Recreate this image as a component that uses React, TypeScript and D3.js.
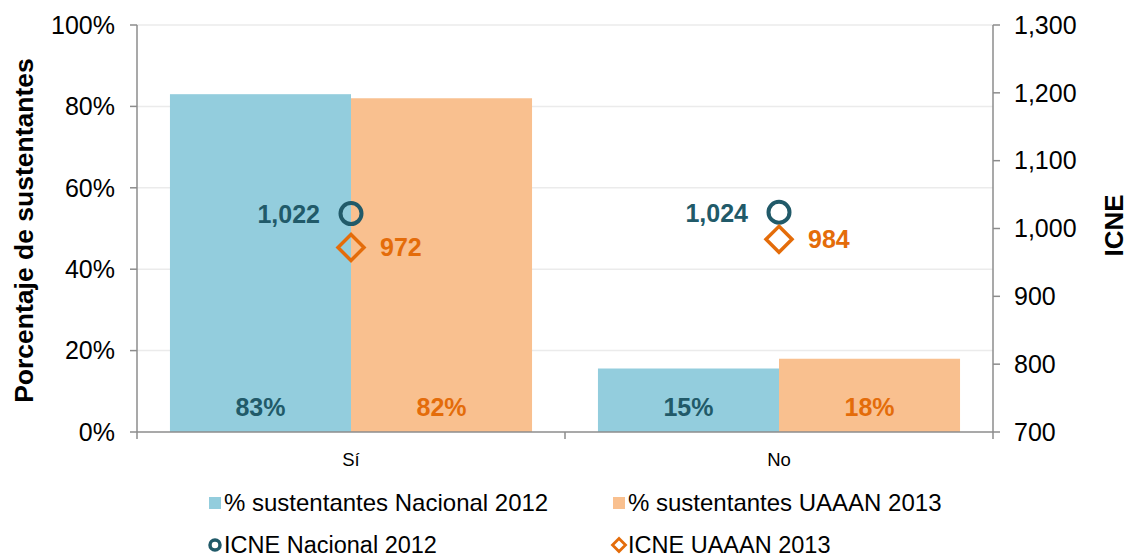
import React from "react";
import * as d3 from "d3";

const categories = ["Sí", "No"];
const pctNacional2012 = [83, 15.6];
const pctUaaan2013 = [82, 18];
const pctNacionalLabels = ["83%", "15%"];
const pctUaaanLabels = ["82%", "18%"];
const icneNacional2012 = [1022, 1024];
const icneUaaan2013 = [972, 984];
const leftTicks = [0, 20, 40, 60, 80, 100];
const rightTicks = [700, 800, 900, 1000, 1100, 1200, 1300];

const W = 1128, H = 557;
const M = { left: 137, right: 993, top: 25, bottom: 432 };
const BLUE = "#93CDDD", PEACH = "#F9C08F", TEAL = "#215A69", ORANGE = "#E46C0A";
const FONT = "Liberation Sans, Arial, sans-serif";

export default function App() {
  const x = d3.scaleBand<string>().domain(categories).range([M.left, M.right]).paddingInner(0.154).paddingOuter(0.077);
  const yL = d3.scaleLinear().domain([0, 100]).range([M.bottom, M.top]);
  const yR = d3.scaleLinear().domain([700, 1300]).range([M.bottom, M.top]);
  const bw = x.bandwidth() / 2;
  const fmt = d3.format(",");
  const outer = d3.scaleBand<string>().domain(categories).range([M.left, M.right]);

  return (
    <svg width={W} height={H} style={{ position: "absolute", left: 0, top: 0, fontFamily: FONT }}>
      {leftTicks.map((t) => (
        <g key={t}>
          {t > 0 && <line x1={M.left} x2={M.right} y1={yL(t)} y2={yL(t)} stroke="#EBEBEB" strokeWidth={1.5} />}
          <line x1={M.left - 7} x2={M.left} y1={yL(t)} y2={yL(t)} stroke="#8C8C8C" strokeWidth={1.5} />
          <text x={115} y={yL(t)} dy="0.35em" textAnchor="end" fontSize={25} fill="#000">{t}%</text>
        </g>
      ))}
      {rightTicks.map((t) => (
        <g key={t}>
          <line x1={M.right} x2={M.right + 7} y1={yR(t)} y2={yR(t)} stroke="#8C8C8C" strokeWidth={1.5} />
          <text x={1014} y={yR(t)} dy="0.35em" textAnchor="start" fontSize={25} fill="#000">{fmt(t)}</text>
        </g>
      ))}
      {categories.map((c, i) => {
        const x0 = x(c)!;
        return (
          <g key={c}>
            <rect x={x0} y={yL(pctNacional2012[i])} width={bw} height={M.bottom - yL(pctNacional2012[i])} fill={BLUE} />
            <rect x={x0 + bw} y={yL(pctUaaan2013[i])} width={bw} height={M.bottom - yL(pctUaaan2013[i])} fill={PEACH} />
            <text x={x0 + bw / 2} y={407} dy="0.35em" textAnchor="middle" fontSize={25} fontWeight="bold" fill={TEAL}>{pctNacionalLabels[i]}</text>
            <text x={x0 + bw * 1.5} y={407} dy="0.35em" textAnchor="middle" fontSize={25} fontWeight="bold" fill={ORANGE}>{pctUaaanLabels[i]}</text>
            <text x={x0 + bw} y={460} dy="0.35em" textAnchor="middle" fontSize={18.5} fill="#000">{c}</text>
          </g>
        );
      })}
      <line x1={M.left} x2={M.left} y1={M.top} y2={M.bottom} stroke="#8C8C8C" strokeWidth={1.5} />
      <line x1={M.right} x2={M.right} y1={M.top} y2={M.bottom} stroke="#8C8C8C" strokeWidth={1.5} />
      <line x1={M.left} x2={M.right} y1={M.bottom} y2={M.bottom} stroke="#8C8C8C" strokeWidth={1.5} />
      {[M.left, outer(categories[1])!, M.right].map((tx, i) => (
        <line key={i} x1={tx} x2={tx} y1={M.bottom} y2={M.bottom + 7} stroke="#8C8C8C" strokeWidth={1.5} />
      ))}
      {categories.map((c, i) => {
        const cx = x(c)! + bw;
        const cy = yR(icneNacional2012[i]);
        const dyy = yR(icneUaaan2013[i]);
        const s = 13;
        return (
          <g key={c}>
            <circle cx={cx} cy={cy} r={10.5} fill="none" stroke={TEAL} strokeWidth={4} />
            <text x={cx - 31} y={cy + 1} dy="0.35em" textAnchor="end" fontSize={25} fontWeight="bold" fill={TEAL}>{fmt(icneNacional2012[i])}</text>
            <path d={`M${cx},${dyy - s} L${cx + s},${dyy} L${cx},${dyy + s} L${cx - s},${dyy} Z`} fill="none" stroke={ORANGE} strokeWidth={3.5} />
            <text x={cx + 29} y={dyy} dy="0.35em" textAnchor="start" fontSize={25} fontWeight="bold" fill={ORANGE}>{fmt(icneUaaan2013[i])}</text>
          </g>
        );
      })}
      <text transform={`translate(24,${(M.top + M.bottom) / 2 + 2}) rotate(-90)`} dy="0.35em" textAnchor="middle" fontSize={26.5} fontWeight="bold" fill="#000">Porcentaje de sustentantes</text>
      <text transform={`translate(1114,${(M.top + M.bottom) / 2 - 3}) rotate(-90)`} dy="0.35em" textAnchor="middle" fontSize={26} fontWeight="bold" fill="#000">ICNE</text>
      {/* Legend */}
      <rect x={209} y={497} width={12} height={12} fill={BLUE} />
      <text x={224} y={503} dy="0.35em" fontSize={24} fill="#000">% sustentantes Nacional 2012</text>
      <rect x={613} y={497} width={12} height={12} fill={PEACH} />
      <text x={628} y={503} dy="0.35em" fontSize={24} fill="#000">% sustentantes UAAAN 2013</text>
      <circle cx={215} cy={545} r={5} fill="none" stroke={TEAL} strokeWidth={3.5} />
      <text x={224} y={545} dy="0.35em" fontSize={23.5} fill="#000">ICNE Nacional 2012</text>
      <path d={`M619,538.5 L625.5,545 L619,551.5 L612.5,545 Z`} fill="none" stroke={ORANGE} strokeWidth={2.8} />
      <text x={628} y={545} dy="0.35em" fontSize={23.5} fill="#000">ICNE UAAAN 2013</text>
    </svg>
  );
}
